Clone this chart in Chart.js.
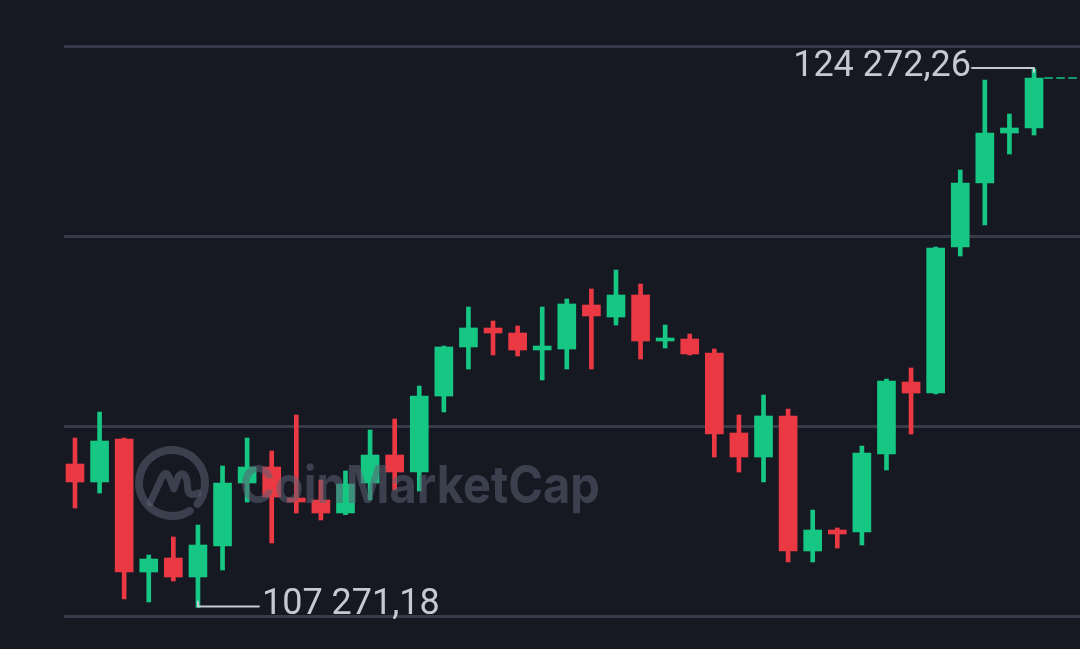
<!DOCTYPE html>
<html><head><meta charset="utf-8">
<script src="https://cdn.jsdelivr.net/npm/chart.js@4"></script>
<style>html,body{margin:0;padding:0;background:#161822;overflow:hidden}</style>
</head><body>
<canvas id="c" width="1080" height="649"></canvas>
<script>
const days = [1,2,3,4,5,6,7,8,9,10,11,12,13,14,15,16,17,18,19,20,21,22,23,24,25,26,27,28,29,30,31,32,33,34,35,36,37,38,39,40];
const opens  = [111800,111232,112589,108389,108832,108232,109211,111200,111705,110726,110663,110253,111200,112084,111547,113947,115495,116095,115937,115400,115432,116821,116442,117137,115684,115747,115305,112779,112021,113316,109053,109716,109653,112116,114389,114042,118653,120674,122253,122411];
const highs  = [112621,113442,112621,108926,109495,109874,111737,112621,112211,113347,111295,111579,112874,113221,114263,115526,116758,116316,116158,116758,117011,117326,117926,117484,116189,115905,115432,113347,113979,113537,110347,109779,112368,114484,114832,118653,121084,123926,122853,124272.26];
const lows   = [110411,110884,107537,107442,108105,107271.18,108453,110600,109305,110253,110032,110200,110663,110979,110947,113442,114800,115242,115211,114453,114800,114800,116189,115116,115463,115242,112021,111547,111232,108705,108705,109147,109242,111611,112747,114011,118368,119347,121589,122189];
const closes = [111232,112526,108389,108800,108232,109242,111200,111705,110758,110600,110253,111168,112084,111547,113947,115495,116095,115937,115400,115526,116853,116474,117137,115684,115779,115274,112747,112021,113316,109053,109716,109589,112147,114421,114042,118621,120674,122253,122411,123989];
const gridTicks = [107000, 113000, 119000, 125000];

const GREEN = '#16c784', RED = '#ea3943';
const colors = opens.map((o, i) => closes[i] >= o ? GREEN : RED);

function fmt(v) {
  const [int, dec] = v.toFixed(2).split('.');
  return int.replace(/\B(?=(\d{3})+(?!\d))/g, ' ') + ',' + dec;
}

const bgPlugin = {
  id: 'bg',
  beforeDraw(chart) {
    const ctx = chart.ctx;
    ctx.save();
    ctx.fillStyle = '#161822';
    ctx.fillRect(0, 0, chart.width, chart.height);
    ctx.restore();
  }
};

const overlayPlugin = {
  id: 'overlay',
  afterDatasetsDraw(chart) {
    const ctx = chart.ctx;
    const xs = chart.scales.x, ys = chart.scales.y;
    ctx.save();
    // watermark
    ctx.globalAlpha = 0.55;
    ctx.strokeStyle = '#5d6173';
    ctx.fillStyle = '#5d6173';
    const cx = 172, cy = 483, r = 33;
    ctx.lineWidth = 8;
    ctx.lineCap = 'round';
    ctx.lineJoin = 'round';
    ctx.beginPath();
    ctx.arc(cx, cy, r, 0.32 * Math.PI, 0.22 * Math.PI + 2 * Math.PI * 0.999, false);
    ctx.stroke();
    ctx.lineWidth = 7;
    ctx.beginPath();
    ctx.moveTo(cx - 22, cy + 20);
    ctx.lineTo(cx - 10, cy - 6);
    ctx.quadraticCurveTo(cx - 6, cy - 14, cx - 2, cy - 4);
    ctx.lineTo(cx + 2, cy + 6);
    ctx.lineTo(cx + 6, cy - 6);
    ctx.quadraticCurveTo(cx + 12, cy - 14, cx + 15, cy - 2);
    ctx.lineTo(cx + 16, cy + 8);
    ctx.quadraticCurveTo(cx + 18, cy + 14, cx + 26, cy + 10);
    ctx.stroke();
    ctx.font = 'bold 52px Inter, Roboto, sans-serif';
    ctx.textBaseline = 'alphabetic';
    ctx.textAlign = 'left';
    const wm = 'CoinMarketCap';
    const w = ctx.measureText(wm).width;
    ctx.save();
    ctx.translate(240, 503);
    ctx.scale(360 / w, 1);
    ctx.fillText(wm, 0, 0);
    ctx.restore();
    ctx.globalAlpha = 1;

    // last price dashed line
    const li = closes.length - 1;
    const xl = xs.getPixelForValue(li), yl = ys.getPixelForValue(closes[li]);
    ctx.strokeStyle = 'rgba(22,199,132,0.75)';
    ctx.lineWidth = 2;
    ctx.setLineDash([7, 5]);
    ctx.beginPath();
    ctx.moveTo(xl + 11, yl);
    ctx.lineTo(chart.width, yl);
    ctx.stroke();
    ctx.setLineDash([]);

    // max / min labels
    let iMax = 0, iMin = 0;
    highs.forEach((v, i) => { if (v > highs[iMax]) iMax = i; });
    lows.forEach((v, i) => { if (v < lows[iMin]) iMin = i; });
    ctx.strokeStyle = '#c6c9d3';
    ctx.fillStyle = '#c6c9d3';
    ctx.lineWidth = 2;
    ctx.font = '36px Roboto, sans-serif';
    ctx.textBaseline = 'middle';
    const xh = xs.getPixelForValue(iMax), yh = ys.getPixelForValue(highs[iMax]);
    ctx.beginPath();
    ctx.moveTo(xh - 62, yh - 1);
    ctx.lineTo(xh, yh - 1);
    ctx.lineTo(xh, yh + 3);
    ctx.stroke();
    ctx.textAlign = 'right';
    ctx.fillText(fmt(highs[iMax]), xh - 63, yh - 2);
    const xm = xs.getPixelForValue(iMin), ym = ys.getPixelForValue(lows[iMin]);
    ctx.beginPath();
    ctx.moveTo(xm, ym - 6);
    ctx.lineTo(xm, ym - 1);
    ctx.lineTo(xm + 61, ym - 1);
    ctx.stroke();
    ctx.textAlign = 'left';
    ctx.fillText(fmt(lows[iMin]), xm + 64, ym - 2);
    ctx.restore();
  }
};

new Chart(document.getElementById('c'), {
  type: 'bar',
  data: {
    datasets: [
      {
        label: 'body',
        data: days.map((d, i) => ({ x: i, y: [opens[i], closes[i]] })),
        backgroundColor: colors,
        borderWidth: 0,
        barThickness: 18,
        grouped: false,
        order: 0
      },
      {
        label: 'wick',
        data: days.map((d, i) => ({ x: i, y: [lows[i], highs[i]] })),
        backgroundColor: colors,
        borderWidth: 0,
        barThickness: 4,
        grouped: false,
        order: 1
      }
    ]
  },
  options: {
    responsive: false,
    animation: false,
    devicePixelRatio: 1,
    layout: { padding: { left: 64, right: 0, top: 0, bottom: 0 } },
    plugins: { legend: { display: false }, tooltip: { enabled: false } },
    scales: {
      x: {
        type: 'linear',
        display: false,
        offset: false,
        grid: { offset: false },
        min: -0.447,
        max: 40.87
      },
      y: {
        type: 'linear',
        min: 105958,
        max: 126453,
        afterBuildTicks(scale) { scale.ticks = gridTicks.map(v => ({ value: v })); },
        afterFit(scale) { scale.width = 0; },
        ticks: { display: false },
        border: { display: false },
        grid: { color: '#373a48', lineWidth: 3, drawTicks: false }
      }
    }
  },
  plugins: [bgPlugin, overlayPlugin]
});
</script>
</body></html>
